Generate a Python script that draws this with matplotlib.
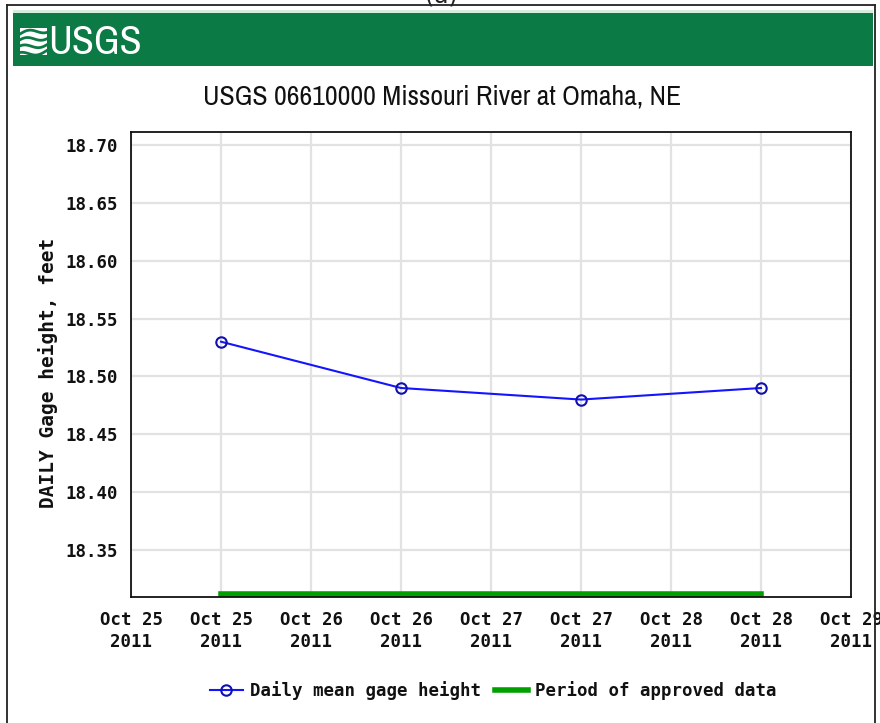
import numpy as np
import matplotlib
matplotlib.use("Agg")
import matplotlib.pyplot as plt
import matplotlib.dates as mdates
from matplotlib.patches import Rectangle
from matplotlib.lines import Line2D
import matplotlib.transforms as mtransforms
from datetime import datetime

# Daily mean gage height, Missouri River at Omaha, NE
dates = [datetime(2011, 10, 25, 12), datetime(2011, 10, 26, 12),
         datetime(2011, 10, 27, 12), datetime(2011, 10, 28, 12)]
gage_height = [18.53, 18.49, 18.48, 18.49]
approved_start = datetime(2011, 10, 25, 12)
approved_end = datetime(2011, 10, 28, 12)
y_ticks = [18.35, 18.40, 18.45, 18.50, 18.55, 18.60, 18.65, 18.70]
title = "USGS 06610000 Missouri River at Omaha, NE"
ylabel = "DAILY Gage height, feet"

W, H = 880, 723
fig = plt.figure(figsize=(W / 100, H / 100), dpi=100)
fig.patch.set_facecolor("white")

def fx(x):
    return np.asarray(x) / W

def fy(y):
    return 1 - np.asarray(y) / H

mono = ["DejaVu Sans Mono"]
narrow = ["Archivo Narrow", "DejaVu Sans"]
INK = "#111111"
GREEN = "#0b7a44"

# outer panel border
for xs, ys in [((7, 7), (5, 723)), ((7, 875), (5, 5)), ((875, 875), (5, 723))]:
    fig.add_artist(Line2D(fx(xs), fy(ys), color="#222222", lw=1.3))

# green header banner
fig.add_artist(Rectangle((fx(13), fy(66)), fx(873) - fx(13), fy(12) - fy(66),
                         facecolor=GREEN, edgecolor="none"))
fig.add_artist(Rectangle((fx(13), fy(13)), fx(873) - fx(13), fy(10) - fy(13),
                         facecolor="#d6ecdc", edgecolor="none"))

# logo mark: white tile crossed by green waves
fig.add_artist(Rectangle((fx(20), fy(55)), fx(47) - fx(20), fy(28) - fy(55),
                         facecolor="white", edgecolor="none"))
t = np.linspace(0, 1, 40)
for k, y0 in enumerate([34, 41, 48, 55]):
    xs = 20 + 27 * t
    ys = y0 - 2.5 * np.sin(np.pi * 1.6 * t + 0.5 * k) - 4 * t
    fig.add_artist(Line2D(fx(xs), fy(ys), color=GREEN, lw=2.0))
fig.text(fx(48), fy(42), "USGS", color="white", fontsize=29, fontweight="heavy",
         family=narrow, ha="left", va="center")

# panel letter, mostly above the top edge
fig.text(fx(441), fy(2), "(a)", fontsize=17, family=["DejaVu Sans"],
         ha="center", va="baseline", color="#222222")

# chart title
fig.text(fx(442), fy(97), title, fontsize=20, fontweight="semibold",
         family=narrow, ha="center", va="center", color=INK)

ax = fig.add_axes([fx(131), fy(597), fx(851) - fx(131), fy(132) - fy(597)])
ax.set_facecolor("white")

ax.set_xlim(datetime(2011, 10, 25, 0), datetime(2011, 10, 29, 0))
ax.set_ylim(18.3094, 18.7112)

ax.xaxis.set_major_locator(mdates.HourLocator(byhour=[0, 12]))
ax.xaxis.set_major_formatter(mdates.DateFormatter("%b %d\n%Y"))
ax.set_yticks(y_ticks)
ax.set_yticklabels([f"{v:.2f}" for v in y_ticks])

ax.grid(True, color="#e2e2e2", lw=1.6)
ax.set_axisbelow(True)
ax.tick_params(length=0)
ax.tick_params(axis="x", pad=10)
ax.tick_params(axis="y", pad=9.5)
for lbl in ax.get_xticklabels() + ax.get_yticklabels():
    lbl.set_family(mono)
    lbl.set_fontweight("bold")
    lbl.set_fontsize(12.5)
    lbl.set_color(INK)
for lbl in ax.get_xticklabels():
    lbl.set_linespacing(1.3)

for sp in ax.spines.values():
    sp.set_color(INK)
    sp.set_linewidth(1.3)

ax.set_ylabel(ylabel, family=mono, fontweight="bold", fontsize=14,
              color=INK)
ax.yaxis.set_label_coords(-0.101, 0.482)

line, = ax.plot(dates, gage_height, color="#1414ff", lw=1.5, marker="o",
                markersize=7.5, markerfacecolor="none", markeredgecolor="#1010b0",
                markeredgewidth=1.5, label="Daily mean gage height")

trans = mtransforms.blended_transform_factory(ax.transData, ax.transAxes)
approved, = ax.plot([approved_start, approved_end], [0.007, 0.007],
                    transform=trans, color="#00a000", lw=4,
                    solid_capstyle="projecting", label="Period of approved data")

leg = fig.legend(handles=[line, approved], loc="center",
                 bbox_to_anchor=(fx(493), fy(691)), ncol=2, frameon=False,
                 handlelength=1.9, handletextpad=0.4, columnspacing=0.8,
                 prop={"family": mono, "weight": "bold", "size": 12.5})
for txt in leg.get_texts():
    txt.set_color(INK)

fig.savefig("out.png", dpi=100, facecolor="white")
